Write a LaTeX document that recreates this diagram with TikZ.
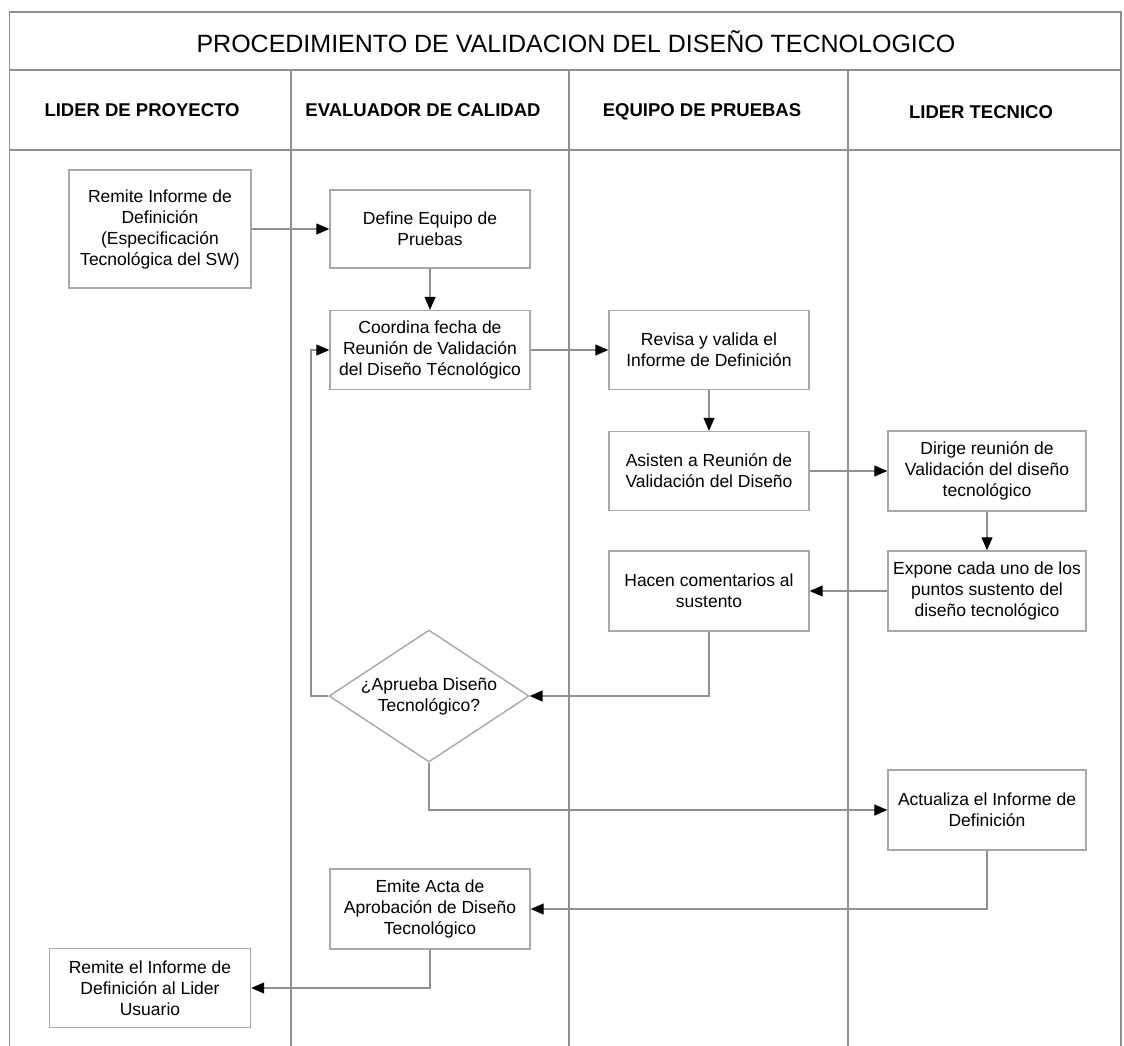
\documentclass[tikz,border=0pt]{standalone}
\usepackage{fontspec}
\setmainfont{Liberation Sans}
\usetikzlibrary{shapes.geometric, arrows.meta}
\definecolor{gris}{HTML}{A8A8A8}
\definecolor{grislinea}{HTML}{909090}
\tikzset{
  caja/.style={draw=gris, line width=1.4pt, fill=white, minimum width=200pt,
    minimum height=79pt, align=center, inner sep=2pt,
    font=\fontsize{17.5}{21}\selectfont},
  decision/.style={diamond, draw=gris, line width=1.4pt, fill=white, aspect=1.52,
    inner sep=0pt, minimum width=200pt, minimum height=132pt, align=center,
    font=\fontsize{17.5}{21}\selectfont},
  flecha/.style={draw=grislinea, line width=1.2pt,
    -{Triangle[length=13pt,width=11pt,color=black]}},
  carril/.style={font=\bfseries\fontsize{18.5}{20}\selectfont},
  borde/.style={draw=grislinea, line width=1.2pt}
}

\begin{document}
\begin{tikzpicture}[x=1pt, y=-1pt]
    \useasboundingbox[fill=white] (0,0) rectangle (1124,1046);
    % Marco
    \draw[borde] (9.6,1046) -- (9.6,12) -- (1121,12) -- (1121,1046);
    \draw[borde] (9.6,70) -- (1121,70);
    \draw[borde] (9.6,150) -- (1121,150);
    % Carriles
    \foreach \x in {291,569,848} {
        \draw[borde] (\x,70) -- (\x,1046);
    }
    % Titulo y cabeceras
    \node[font=\fontsize{25}{28}\selectfont] (titulo) at (576,42)
        {PROCEDIMIENTO DE VALIDACION DEL DISEÑO TECNOLOGICO};
    \node[carril] (lider) at (142,110) {LIDER DE PROYECTO};
    \node[carril] (evaluador) at (423,110) {EVALUADOR DE CALIDAD};
    \node[carril] (equipo) at (702,112) {EQUIPO DE PRUEBAS};
    \node[carril] (tecnico) at (981,112) {LIDER TECNICO};
    % Actividades
    \node[caja, minimum width=182pt, minimum height=118pt] (remite) at (160,229)
        {Remite Informe de\\Definición\\(Especificación\\Tecnológica del SW)};
    \node[caja, minimum height=78pt] (define) at (430,229)
        {Define Equipo de\\Pruebas};
    \node[caja] (coordina) at (430,350)
        {Coordina fecha de\\Reunión de Validación\\del Diseño Técnológico};
    \node[caja] (revisa) at (709,350)
        {Revisa y valida el\\Informe de Definición};
    \node[caja] (asisten) at (709,471)
        {Asisten a Reunión de\\Validación del Diseño};
    \node[caja, minimum width=198pt, minimum height=80pt] (dirige) at (987,471)
        {Dirige reunión de\\Validación del diseño\\tecnológico};
    \node[caja, minimum width=198pt, minimum height=80pt] (expone) at (987,591)
        {Expone cada uno de los\\puntos sustento del\\diseño tecnológico};
    \node[caja, minimum height=80pt] (hacen) at (709,591)
        {Hacen comentarios al\\sustento};
    \node[decision] (aprueba) at (429,696)
        {¿Aprueba Diseño\\Tecnológico?};
    \node[caja, minimum width=198pt, minimum height=80pt] (actualiza) at (987,810)
        {Actualiza el Informe de\\Definición};
    \node[caja, minimum height=80pt] (emite) at (430,909)
        {Emite Acta de\\Aprobación de Diseño\\Tecnológico};
    \node[caja, minimum width=201pt] (remitelider) at (150,988)
        {Remite el Informe de\\Definición al Lider\\Usuario};
    \coordinate (vuelta) at (311,696);
    % Flujo
    \draw[flecha] (remite.east) -- (define.west);
    \draw[flecha] (define.south) -- (coordina.north);
    \draw[flecha] (coordina.east) -- (revisa.west);
    \draw[flecha] (revisa.south) -- (asisten.north);
    \draw[flecha] (asisten.east) -- (dirige.west);
    \draw[flecha] (dirige.south) -- (expone.north);
    \draw[flecha] (expone.west) -- (hacen.east);
    \draw[flecha] (hacen.south) |- (aprueba.east);
    \draw[flecha] (aprueba.west) -- (vuelta) |- (coordina.west);
    \draw[flecha] (aprueba.south) |- (actualiza.west);
    \draw[flecha] (actualiza.south) |- (emite.east);
    \draw[flecha] (emite.south) |- (remitelider.east);
\end{tikzpicture}
\end{document}
